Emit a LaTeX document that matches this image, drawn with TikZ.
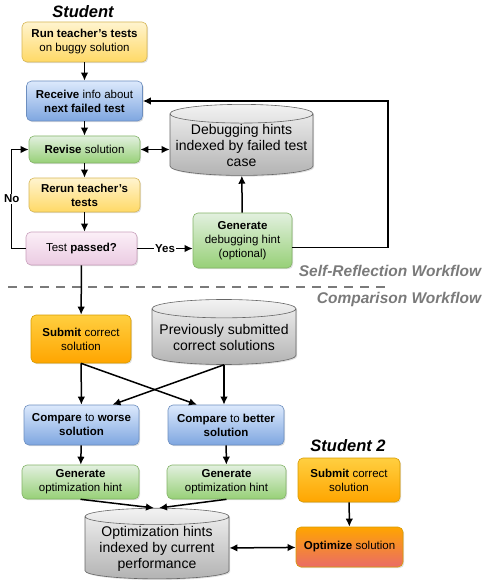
\documentclass[tikz,border=0pt]{standalone}
\usepackage{fontspec}
\setmainfont{Liberation Sans}
\usetikzlibrary{arrows.meta,shapes.geometric,shadows}
\definecolor{yeltop}{HTML}{FFF4CF}
\definecolor{yelbot}{HTML}{FFD966}
\definecolor{yelline}{HTML}{D6B656}
\definecolor{blutop}{HTML}{DCE9FC}
\definecolor{blubot}{HTML}{7EA6E0}
\definecolor{bluline}{HTML}{6C8EBF}
\definecolor{grntop}{HTML}{E2F0DF}
\definecolor{grnbot}{HTML}{97D077}
\definecolor{grnline}{HTML}{82B366}
\definecolor{pnktop}{HTML}{FBEFF7}
\definecolor{pnkbot}{HTML}{EBCBE2}
\definecolor{pnkline}{HTML}{C9A0BC}
\definecolor{orgtop}{HTML}{FFCF40}
\definecolor{orgbot}{HTML}{FFA500}
\definecolor{orgline}{HTML}{D79B00}
\definecolor{redbot}{HTML}{EA6B66}
\definecolor{cyltop}{HTML}{F2F2F2}
\definecolor{cylbot}{HTML}{B3B3B3}
\definecolor{cylline}{HTML}{666666}
\definecolor{flowgray}{HTML}{7A7A7A}
\begin{document}
\begin{tikzpicture}[x=1pt,y=-1pt,line width=1.5pt,
  box/.style={rounded corners=5pt,line width=.6pt,align=center,inner sep=2pt,
    font=\fontsize{11.5}{14}\selectfont,
    drop shadow={shadow xshift=1.2pt,shadow yshift=-1.2pt,opacity=.25}},
  yelbox/.style={box,draw=yelline,top color=yeltop,bottom color=yelbot},
  blubox/.style={box,draw=bluline,top color=blutop,bottom color=blubot},
  grnbox/.style={box,draw=grnline,top color=grntop,bottom color=grnbot},
  pnkbox/.style={box,draw=pnkline,top color=pnktop,bottom color=pnkbot},
  orgbox/.style={box,draw=orgline,top color=orgtop,bottom color=orgbot},
  redbox/.style={box,draw=orgline,top color=orgbot,bottom color=redbot},
  store/.style={cylinder,shape border rotate=90,aspect=.14,draw=cylline,line width=.6pt,
    top color=cyltop,bottom color=cylbot,align=center,inner sep=1pt,
    font=\fontsize{14}{16}\selectfont,
    drop shadow={shadow xshift=1.2pt,shadow yshift=-1.2pt,opacity=.25}},
  title/.style={font=\fontsize{16.5}{18}\selectfont\bfseries\itshape},
  flowlabel/.style={font=\fontsize{15.5}{18}\selectfont\bfseries\itshape,text=flowgray},
  edgelabel/.style={fill=white,inner sep=1pt,font=\fontsize{11.5}{13}\selectfont\bfseries},
  arr/.style={-{Latex[length=8pt,width=7.5pt]}},
  twoarr/.style={{Latex[length=8pt,width=7.5pt]}-{Latex[length=8pt,width=7.5pt]}}]
\useasboundingbox (0,0) rectangle (487,580);
\node[title] (student) at (83,12) {Student};
\node[yelbox,minimum width=125pt,minimum height=40pt] (run) at (84.5,42) {\textbf{Run teacher's tests}\\on buggy solution};
\node[blubox,minimum width=116pt,minimum height=40pt] (receive) at (84.5,101) {\textbf{Receive} info about\\\textbf{next failed test}};
\node[grnbox,minimum width=111pt,minimum height=27pt] (revise) at (84.5,149.5) {\textbf{Revise} solution};
\node[yelbox,minimum width=111pt,minimum height=34pt] (rerun) at (84.5,195) {\textbf{Rerun teacher's}\\\textbf{tests}};
\node[pnkbox,minimum width=111pt,minimum height=33pt] (passed) at (81.5,248.5) {Test \textbf{passed?}};
\node[store,minimum width=143pt,minimum height=55pt] (dbhints) at (241.5,145.5) {Debugging hints\\indexed by failed test\\case};
\node[grnbox,minimum width=99pt,minimum height=55pt] (gendbg) at (242.5,240.5) {\textbf{Generate}\\debugging hint\\(optional)};
\node[flowlabel] (selfrefl) at (390,271) {Self-Reflection Workflow};
\draw[flowgray,line width=2.6pt,dash pattern=on 9pt off 7pt] (8,287) -- (392,287);
\node[flowlabel] (comparison) at (399,299) {Comparison Workflow};
\node[orgbox,minimum width=100pt,minimum height=48pt] (submit) at (81,339) {\textbf{Submit} correct\\solution};
\node[store,minimum width=144pt,minimum height=65pt] (prevsol) at (224,337.5) {Previously submitted\\correct solutions};
\node[blubox,minimum width=115pt,minimum height=40pt] (cmpworse) at (81.5,425) {\textbf{Compare} to \textbf{worse}\\\textbf{solution}};
\node[blubox,minimum width=116pt,minimum height=40pt] (cmpbetter) at (226,425) {\textbf{Compare} to \textbf{better}\\\textbf{solution}};
\node[grnbox,minimum width=117pt,minimum height=34pt] (genworse) at (80.5,482) {\textbf{Generate}\\optimization hint};
\node[grnbox,minimum width=119pt,minimum height=34pt] (genbetter) at (226.5,482) {\textbf{Generate}\\optimization hint};
\node[store,minimum width=144pt,minimum height=57pt] (opthints) at (157,548.5) {Optimization hints\\indexed by current\\performance};
\node[title] (studenttwo) at (348,446) {Student 2};
\node[orgbox,minimum width=102pt,minimum height=44pt] (submittwo) at (349,480) {\textbf{Submit} correct\\solution};
\node[redbox,minimum width=107pt,minimum height=40pt] (optimize) at (349.5,547) {\textbf{Optimize} solution};
\coordinate (loopcorner) at (388,101);
\draw[arr] (run) -- (receive);
\draw[arr] (receive) -- (revise);
\draw[arr] (revise) -- (rerun);
\draw[arr] (rerun.south) -- (rerun.south |- passed.north);
\draw[twoarr] (revise.east) -- (revise.east -| dbhints.west);
\draw[arr] (passed.east) -- node[edgelabel] (yes) {Yes} (passed.east -| gendbg.west);
\draw[arr] (gendbg) -- (dbhints);
\draw[arr] ([yshift=-7pt]gendbg.east) -| (loopcorner) -- (receive.east);
\draw[arr] (passed.west) -- ++(-14,0) |- node[pos=.25,edgelabel] (no) {No} (revise.west);
\draw[arr] (passed) -- (submit);
\draw[arr] (submit) -- (cmpworse);
\draw[arr] (submit.south) -- ([xshift=-29pt]cmpbetter.north);
\draw[arr] (prevsol.bottom) -- ([xshift=-2pt]cmpbetter.north);
\draw[arr] (prevsol.bottom) -- ([xshift=31pt]cmpworse.north);
\draw[arr] (cmpworse) -- (genworse);
\draw[arr] (cmpbetter) -- (genbetter);
\draw[arr] (genworse.south) -- ([xshift=-3pt]opthints.top);
\draw[arr] (genbetter.south) -- ([xshift=2pt]opthints.top);
\draw[arr] (submittwo) -- (optimize);
\draw[twoarr] (opthints) -- (optimize);
\end{tikzpicture}
\end{document}
